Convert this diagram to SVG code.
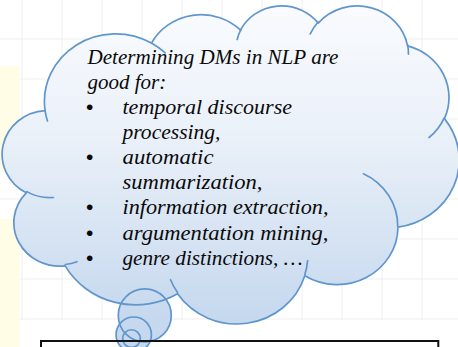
<svg xmlns="http://www.w3.org/2000/svg" width="458" height="347" viewBox="0 0 458 347">
  <style>
    .grid line { stroke: #efefef; stroke-width: 1; }
    .band { fill: #fffde6; }
    .puff-fill { fill: url(#cloudShade); stroke: none; }
    .puff-line { fill: none; stroke: #6096cc; stroke-width: 1.7; stroke-linejoin: round; stroke-linecap: round; }
    .label { font-family: "Liberation Serif", "Times New Roman", serif; font-style: italic; font-size: 21px; fill: #0a0a0a; }
    .dot { font-family: "Liberation Sans", Arial, sans-serif; font-size: 21px; fill: #0a0a0a; }
    .frame { fill: none; stroke: #111111; stroke-width: 2; }
  </style>
  <defs>
    <linearGradient id="cloudShade" gradientUnits="userSpaceOnUse" x1="0" y1="5" x2="0" y2="323">
      <stop offset="0" stop-color="#f9fbfe"/>
      <stop offset="0.4" stop-color="#ebf1f9"/>
      <stop offset="1" stop-color="#c5d8ee"/>
    </linearGradient>
    <path id="cloudOutline" d="M45.08,110.58 A71.13,67.65 0 0 1 151.51,43.09 A56.17,53.49 0 0 1 240.53,30.08 A45.97,43.76 0 0 1 318.23,23.08 A51.16,48.55 0 0 1 407.59,45.87 A56.17,53.54 0 0 1 444.45,118.62 A71.36,67.87 0 0 1 397.97,227.16 A60.93,57.91 0 0 1 304.77,275.81 A71.12,67.83 0 0 1 177.58,293.84 A81.31,77.61 0 0 1 65.13,265.90 A45.92,43.56 0 0 1 26.27,192.84 A45.76,43.76 0 0 1 45.08,110.58 Z"/>
    <g id="thoughtBubbles">
      <circle cx="144.78" cy="315.38" r="26.5"/>
      <circle cx="133.75" cy="334.66" r="17.67"/>
      <circle cx="131.5" cy="338.6" r="8.83"/>
    </g>
  </defs>

  <!-- page background: white sheet with faint grid and pale yellow margin strips -->
  <g id="background">
    <rect x="0" y="0" width="458" height="347" fill="#ffffff"/>
    <g class="grid">
      <line x1="0" y1="39" x2="458" y2="39"/>
      <line x1="0" y1="79" x2="458" y2="79"/>
      <line x1="0" y1="119" x2="458" y2="119"/>
      <line x1="0" y1="159" x2="458" y2="159"/>
      <line x1="0" y1="199" x2="458" y2="199"/>
      <line x1="0" y1="239" x2="458" y2="239"/>
      <line x1="0" y1="279" x2="458" y2="279"/>
      <line x1="0" y1="319" x2="458" y2="319"/>
      <line x1="22" y1="0" x2="22" y2="320"/>
      <line x1="62" y1="0" x2="62" y2="320"/>
      <line x1="102" y1="0" x2="102" y2="320"/>
      <line x1="142" y1="0" x2="142" y2="320"/>
      <line x1="182" y1="0" x2="182" y2="320"/>
      <line x1="222" y1="0" x2="222" y2="320"/>
      <line x1="262" y1="0" x2="262" y2="320"/>
      <line x1="302" y1="0" x2="302" y2="320"/>
      <line x1="342" y1="0" x2="342" y2="320"/>
      <line x1="382" y1="0" x2="382" y2="320"/>
      <line x1="422" y1="0" x2="422" y2="320"/>
    </g>
    <rect class="band" x="0" y="66" width="20" height="106"/>
    <rect class="band" x="0" y="219" width="20" height="128"/>
  </g>

  <!-- thought cloud: fills first, then every outline on top -->
  <g id="thought-cloud">
    <use href="#cloudOutline" class="puff-fill"/>
    <use href="#thoughtBubbles" class="puff-fill"/>
    <use href="#cloudOutline" class="puff-line"/>
    <use href="#thoughtBubbles" class="puff-line"/>
    <path class="puff-line" d="M53.43,197.49 A45.76,43.76 0 0 1 26.75,191.63 M76.97,261.69 A45.92,43.56 0 0 1 65.30,264.50 M177.56,292.55 A71.12,67.83 0 0 1 170.53,279.75 M307.62,260.60 A71.12,67.83 0 0 1 304.81,274.66 M363.46,173.77 A60.93,57.91 0 0 1 397.71,226.29 M444.23,117.82 A56.17,53.54 0 0 1 428.99,137.51 M407.64,44.74 A51.16,48.55 0 0 1 408.45,54.04 M310.26,33.89 A51.16,48.55 0 0 1 318.08,22.02 M237.20,39.54 A45.97,43.76 0 0 1 240.98,29.31 M151.45,43.02 A71.13,67.65 0 0 1 165.16,52.96 M47.47,121.02 A71.13,67.65 0 0 1 45.08,110.58"/>

    <g id="cloud-text">
      <text class="label" x="87.5" y="63.5" textLength="251" lengthAdjust="spacingAndGlyphs">Determining DMs in NLP are</text>
      <text class="label" x="87.5" y="88.7">good for:</text>
      <text class="dot" x="86" y="113.8">•</text>
      <text class="label" x="122.5" y="113.8" textLength="169.5" lengthAdjust="spacingAndGlyphs">temporal discourse</text>
      <text class="label" x="122.5" y="139" textLength="98" lengthAdjust="spacingAndGlyphs">processing,</text>
      <text class="dot" x="86" y="164.1">•</text>
      <text class="label" x="122.5" y="164.1" textLength="91" lengthAdjust="spacingAndGlyphs">automatic</text>
      <text class="label" x="122.5" y="189.3" textLength="140" lengthAdjust="spacingAndGlyphs">summarization,</text>
      <text class="dot" x="86" y="214.4">•</text>
      <text class="label" x="122.5" y="214.4" textLength="206" lengthAdjust="spacingAndGlyphs">information extraction,</text>
      <text class="dot" x="86" y="239.6">•</text>
      <text class="label" x="122.5" y="239.6" textLength="206" lengthAdjust="spacingAndGlyphs">argumentation mining,</text>
      <text class="dot" x="86" y="264.7">•</text>
      <text class="label" x="122.5" y="264.7" textLength="180" lengthAdjust="spacingAndGlyphs">genre distinctions, …</text>
    </g>
  </g>

  <!-- framed text box running off the bottom edge -->
  <g id="caption-box">
    <rect class="frame" x="41" y="341" width="397.3" height="24"/>
  </g>
</svg>
